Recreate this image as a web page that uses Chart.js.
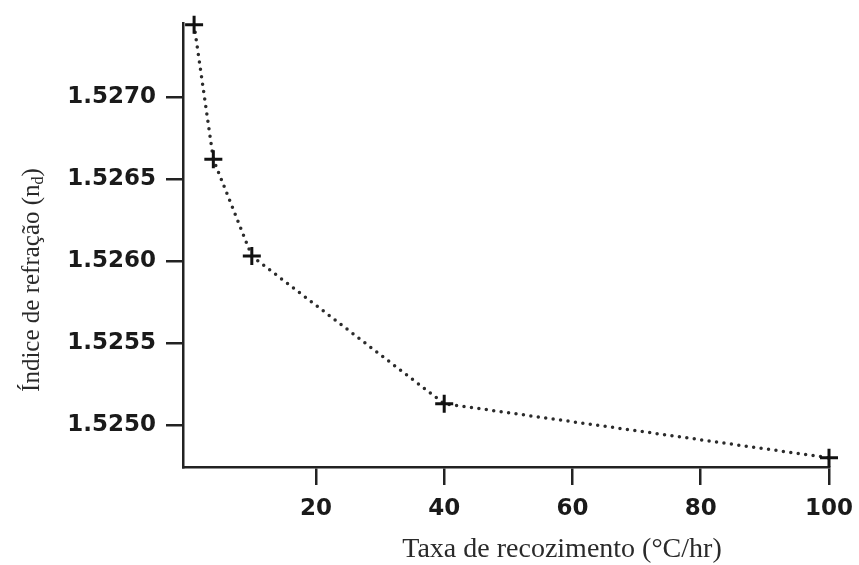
<!DOCTYPE html>
<html>
<head>
<meta charset="utf-8">
<script src="https://cdn.jsdelivr.net/npm/chart.js@4/dist/chart.umd.min.js"></script>
<style>
html,body{margin:0;padding:0;background:#fff;}
#wrap{width:859px;height:565px;position:relative;}
</style>
</head>
<body>
<div id="wrap"><canvas id="c" width="859" height="565"></canvas></div>
<script>
// Data
const annealingRate = [1, 4, 10, 40, 100];            // °C/hr
const refractiveIndex = [1.52744, 1.52662, 1.52603, 1.52513, 1.52480];
const xTickValues = [20, 40, 60, 80, 100];
const yTickValues = [1.5250, 1.5255, 1.5260, 1.5265, 1.5270];
const xTitle = 'Taxa de recozimento (°C/hr)';
const yTitleMain = 'Índice de refração (n';
const yTitleSub = 'd';
const yTitleEnd = ')';

const titlePlugin = {
  id: 'titles',
  afterDraw(chart) {
    const ctx = chart.ctx;
    ctx.save();
    ctx.fillStyle = '#2a2a2a';
    // x title
    ctx.font = '28px "Liberation Serif", "Times New Roman", serif';
    ctx.textAlign = 'center';
    ctx.textBaseline = 'alphabetic';
    ctx.fillText(xTitle, 562, 557);
    // y title (rotated) with subscript
    ctx.translate(39, 280);
    ctx.rotate(-Math.PI / 2);
    const f1 = '25px "Liberation Serif", "Times New Roman", serif';
    const f2 = '16px "Liberation Serif", "Times New Roman", serif';
    ctx.font = f1;
    const w1 = ctx.measureText(yTitleMain).width;
    const w3 = ctx.measureText(yTitleEnd).width;
    ctx.font = f2;
    const w2 = ctx.measureText(yTitleSub).width;
    const total = w1 + w2 + w3;
    let x = -total / 2;
    ctx.textAlign = 'left';
    ctx.font = f1;
    ctx.fillText(yTitleMain, x, 0);
    x += w1;
    ctx.font = f2;
    ctx.fillText(yTitleSub, x, 4);
    x += w2;
    ctx.font = f1;
    ctx.fillText(yTitleEnd, x, 0);
    ctx.restore();
  }
};

new Chart(document.getElementById('c'), {
  type: 'scatter',
  data: {
    datasets: [{
      data: annealingRate.map((x, i) => ({x: x, y: refractiveIndex[i]})),
      showLine: true,
      borderColor: '#2b2b2b',
      borderWidth: 3.5,
      borderDash: [0, 7.5],
      borderCapStyle: 'round',
      pointStyle: 'cross',
      pointRadius: 9,
      pointHoverRadius: 9,
      pointBorderWidth: 3,
      pointBorderColor: '#111',
      pointBackgroundColor: '#111',
      clip: false
    }]
  },
  options: {
    responsive: false,
    animation: false,
    events: [],
    layout: {padding: {left: 0, top: 23, right: 30, bottom: 0}},
    plugins: {legend: {display: false}, tooltip: {enabled: false}},
    scales: {
      x: {
        type: 'linear',
        min: -0.73,
        max: 100,
        afterBuildTicks: s => { s.ticks = xTickValues.map(v => ({value: v})); },
        afterFit: s => { s.height = 98; s.paddingLeft = 0; s.paddingRight = 0; },
        border: {display: true, color: '#222', width: 2.5},
        grid: {drawOnChartArea: false, drawTicks: true, tickLength: 18, color: '#222', lineWidth: 2.5},
        ticks: {
          color: '#1a1a1a',
          padding: 10,
          font: {family: '"DejaVu Sans", sans-serif', size: 23, weight: 'bold'},
          callback: v => String(v)
        }
      },
      y: {
        type: 'linear',
        min: 1.524744,
        max: 1.527451,
        afterBuildTicks: s => { s.ticks = yTickValues.map(v => ({value: v})); },
        afterFit: s => { s.width = 183; s.paddingTop = 0; s.paddingBottom = 0; },
        border: {display: true, color: '#222', width: 2.5},
        grid: {drawOnChartArea: false, drawTicks: true, tickLength: 17, color: '#222', lineWidth: 2.5},
        ticks: {
          color: '#1a1a1a',
          padding: 10,
          font: {family: '"DejaVu Sans", sans-serif', size: 23, weight: 'bold'},
          callback: v => v.toFixed(4)
        }
      }
    }
  },
  plugins: [titlePlugin]
});
</script>
</body>
</html>
